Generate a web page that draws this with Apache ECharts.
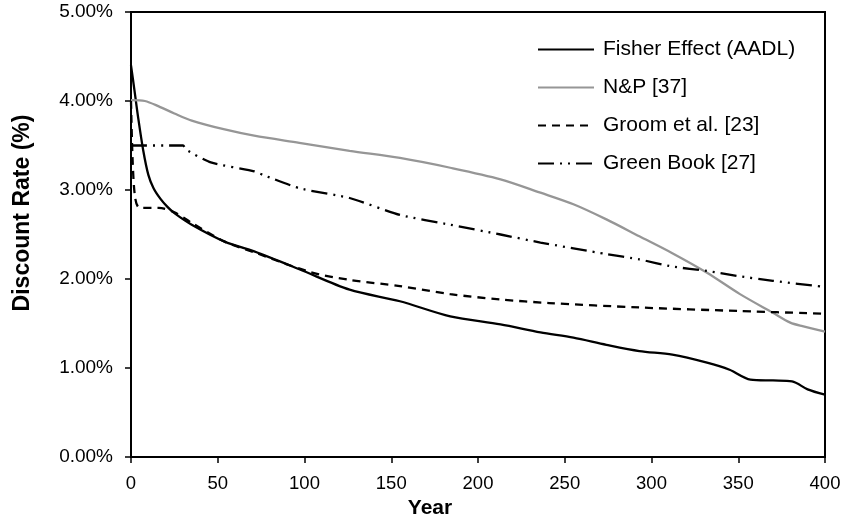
<!DOCTYPE html>
<html>
<head>
<meta charset="utf-8">
<script src="https://cdn.jsdelivr.net/npm/echarts@6/dist/echarts.min.js"></script>
<style>
  html, body { margin: 0; padding: 0; background: #fff; }
  #chart { width: 844px; height: 520px; }
</style>
</head>
<body>
<div id="chart"></div>
<script>
// 数据
const fisherYears = [0, 2, 4, 7, 10, 13, 17, 21, 25, 35, 54, 71, 97, 126, 155, 184, 213, 236, 255, 274, 293, 312, 332, 345, 357, 370, 381, 390, 400];
const fisherRates = [4.40, 4.12, 3.83, 3.45, 3.17, 3.02, 2.90, 2.81, 2.74, 2.61, 2.42, 2.31, 2.11, 1.88, 1.75, 1.58, 1.49, 1.40, 1.34, 1.26, 1.19, 1.15, 1.06, 0.98, 0.87, 0.86, 0.85, 0.76, 0.70];

const npYears = [0, 8, 16, 25, 35, 54, 71, 97, 126, 155, 184, 213, 236, 255, 274, 293, 312, 332, 351, 370, 380, 387, 400];
const npRates = [4.01, 4.00, 3.94, 3.86, 3.78, 3.68, 3.61, 3.53, 3.44, 3.36, 3.25, 3.12, 2.97, 2.84, 2.67, 2.48, 2.29, 2.07, 1.83, 1.62, 1.51, 1.47, 1.41];

const groomYears = [0, 1, 2.5, 5, 16, 25, 35, 54, 71, 103, 126, 155, 184, 213, 241, 293, 351, 400];
const groomRates = [4.00, 3.30, 2.90, 2.80, 2.80, 2.75, 2.63, 2.42, 2.30, 2.08, 1.99, 1.92, 1.83, 1.77, 1.73, 1.68, 1.64, 1.61];

const greenYears = [0, 30, 32, 46, 71, 76, 97, 126, 155, 184, 213, 236, 274, 293, 312, 332, 351, 370, 400];
const greenRates = [3.50, 3.50, 3.45, 3.31, 3.21, 3.17, 3.02, 2.91, 2.72, 2.61, 2.50, 2.41, 2.28, 2.22, 2.14, 2.09, 2.03, 1.98, 1.91];

const seriesNames = ['Fisher Effect (AADL)', 'N&P [37]', 'Groom et al. [23]', 'Green Book [27]'];

function pairs(xs, ys) {
  return xs.map(function (x, i) { return [x, ys[i]]; });
}

(function () {
  const myChart = echarts.init(document.getElementById('chart'));
  const font = 'Liberation Sans, Arial, sans-serif';

  let option = {
    animation: false,
    textStyle: { fontFamily: font },
    grid: {
      left: 131,
      right: 19,
      top: 12,
      bottom: 63,
      outerBoundsMode: 'none',
      show: true,
      borderColor: '#000',
      borderWidth: 2
    },
    legend: {
      data: seriesNames,
      orient: 'vertical',
      left: 537,
      top: 39,
      padding: 0,
      itemWidth: 56,
      itemHeight: 14,
      itemGap: 17,
      itemStyle: { opacity: 0 },
      textStyle: { fontSize: 21, color: '#000', fontFamily: font, lineHeight: 21, padding: [0, 0, 0, 4] }
    },
    xAxis: {
      type: 'value',
      min: 0,
      max: 400,
      interval: 50,
      name: 'Year',
      nameLocation: 'middle',
      nameGap: 40,
      nameTextStyle: { fontSize: 21, fontWeight: 'bold', color: '#000', padding: [0, 96, 0, 0] },
      axisLine: { lineStyle: { color: '#000', width: 2 } },
      axisTick: { length: 6, lineStyle: { color: '#000', width: 1.5 } },
      axisLabel: { fontSize: 18.5, color: '#000', margin: 17 },
      splitLine: { show: false }
    },
    yAxis: {
      type: 'value',
      min: 0,
      max: 5,
      interval: 1,
      name: 'Discount Rate (%)',
      nameLocation: 'middle',
      nameGap: 97,
      nameTextStyle: { fontSize: 23, fontWeight: 'bold', color: '#000', padding: [0, 0, 0, 43] },
      axisLine: { show: true, lineStyle: { color: '#000', width: 2 } },
      axisTick: { show: true, length: 6, lineStyle: { color: '#000', width: 1.5 } },
      axisLabel: {
        fontSize: 19,
        color: '#000',
        margin: 18,
        formatter: function (v) { return v.toFixed(2) + '%'; }
      },
      splitLine: { show: false }
    },
    series: [{
        name: seriesNames[0],
        type: 'line',
        showSymbol: false,
        symbol: 'none',
        smooth: 0.3,
        lineStyle: { color: '#000', width: 2.3 },
        itemStyle: { color: '#000' },
        data: pairs(fisherYears, fisherRates)
      },
      {
        name: seriesNames[1],
        type: 'line',
        showSymbol: false,
        symbol: 'none',
        smooth: 0.3,
        lineStyle: { color: '#969696', width: 2.3 },
        itemStyle: { color: '#969696' },
        data: pairs(npYears, npRates)
      },
      {
        name: seriesNames[2],
        type: 'line',
        showSymbol: false,
        symbol: 'none',
        smooth: 0.3,
        lineStyle: { color: '#000', width: 2.3, type: [8, 6] },
        itemStyle: { color: '#000' },
        data: pairs(groomYears, groomRates)
      },
      {
        name: seriesNames[3],
        type: 'line',
        showSymbol: false,
        symbol: 'none',
        smooth: 0.2,
        lineStyle: { color: '#000', width: 2.3, type: [16, 6, 2, 6, 2, 6] },
        itemStyle: { color: '#000' },
        data: pairs(greenYears, greenRates)
      }
    ]
  };
  myChart.setOption(option);
  window.addEventListener('resize', function () {
    myChart.resize();
  });
})();
</script>
</body>
</html>
